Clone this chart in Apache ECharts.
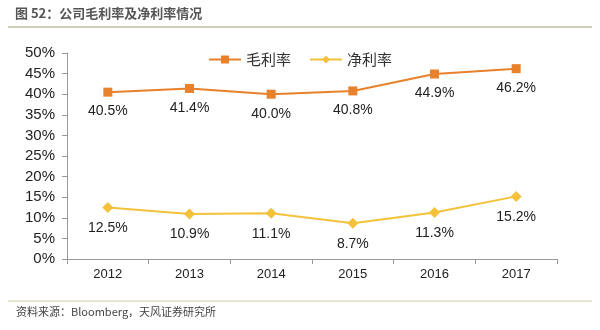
<!DOCTYPE html>
<html><head><meta charset="utf-8">
<script src="https://cdn.jsdelivr.net/npm/echarts@6/dist/echarts.min.js"></script>
<style>html,body{margin:0;padding:0;background:#fff}#c{width:600px;height:330px}</style>
</head><body><div id="c"></div>
<script>
const categories = ['2012','2013','2014','2015','2016','2017'];
const grossMargin = [40.5, 41.4, 40.0, 40.8, 44.9, 46.2];
const netMargin = [12.5, 10.9, 11.1, 8.7, 11.3, 15.2];
const seriesNames = ['毛利率','净利率'];
const titleText = '图 52：公司毛利率及净利率情况';
const sourceText = '资料来源：Bloomberg，天风证券研究所';

const font = '"Liberation Sans", Arial, "Noto Sans CJK SC", sans-serif';
const chart = echarts.init(document.getElementById('c'));
chart.setOption({
  backgroundColor: '#fff',
  textStyle: {fontFamily: font},
  graphic: [
    {type:'text', left: 15, top: 7, style:{text:titleText, fill:'#555', font:'bold 13px "Noto Sans CJK SC", sans-serif'}},
    {type:'line', shape:{x1:8,y1:27,x2:592,y2:27}, style:{stroke:'#c2bda4', lineWidth:1.5}},
    {type:'line', shape:{x1:8,y1:301,x2:592,y2:301}, style:{stroke:'#cfc9ae', lineWidth:1.2}},
    {type:'text', left: 16, top: 306, style:{text:sourceText, fill:'#444', font:'11px "Noto Sans CJK SC", sans-serif'}}
  ],
  legend: {
    data: seriesNames, top: 47, left: 'center', itemWidth: 32, itemHeight: 10, itemGap: 18,
    textStyle: {fontSize: 15, color: '#333', fontFamily: '"Noto Sans CJK SC", sans-serif'}
  },
  grid: {left: 67, right: 43, top: 53, bottom: 71},
  xAxis: {
    type: 'category', data: categories, boundaryGap: true,
    axisLine: {lineStyle: {color: '#999'}},
    axisTick: {show: true, alignWithLabel: false, length: 5, lineStyle: {color: '#999'}},
    axisLabel: {color: '#222', fontSize: 13, margin: 9}
  },
  yAxis: {
    type: 'value', min: 0, max: 50, interval: 5,
    axisLine: {show: true, lineStyle: {color: '#999'}},
    axisTick: {show: true, length: 5, lineStyle: {color: '#999'}},
    splitLine: {show: false},
    axisLabel: {color: '#222', fontSize: 15, margin: 12, formatter: v => v + '%'}
  },
  series: [
    {
      name: seriesNames[0], type: 'line', data: grossMargin,
      symbol: 'rect', symbolSize: 9,
      lineStyle: {color: '#E8812C', width: 2}, itemStyle: {color: '#E8812C'},
      label: {show: true, position: 'bottom', distance: 8, color: '#222', fontSize: 14, formatter: p => p.value.toFixed(1) + '%'}
    },
    {
      name: seriesNames[1], type: 'line', data: netMargin,
      symbol: 'diamond', symbolSize: 11,
      lineStyle: {color: '#F3C13A', width: 2}, itemStyle: {color: '#F3C13A'},
      label: {show: true, position: 'bottom', distance: 8, color: '#222', fontSize: 14, formatter: p => p.value.toFixed(1) + '%'}
    }
  ]
});
</script></body></html>
